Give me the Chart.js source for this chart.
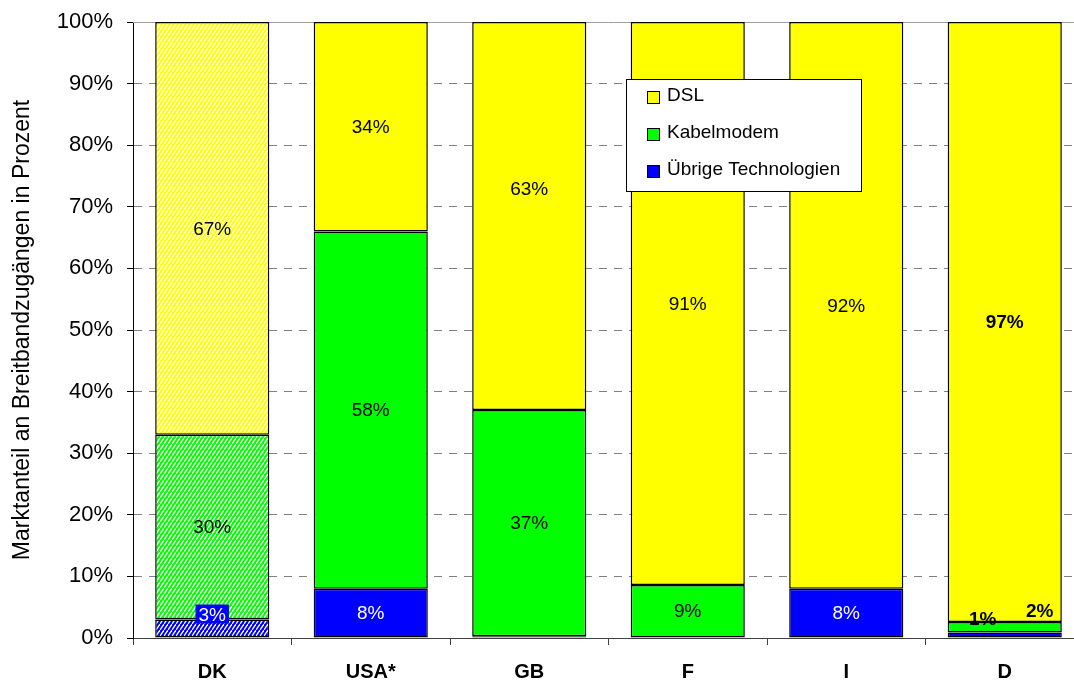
<!DOCTYPE html>
<html lang="de">
<head>
<meta charset="utf-8">
<script src="https://cdn.jsdelivr.net/npm/chart.js@4/dist/chart.umd.min.js"></script>
<style>
  html, body { margin: 0; padding: 0; background: #fff; overflow: hidden; }
  #wrap { width: 1074px; height: 682px; overflow: hidden; }
  canvas { display: block; }
</style>
</head>
<body>
<div id="wrap"><canvas id="c" width="1090" height="682"></canvas></div>
<script>
// Marktanteile der Breitbandtechnologien je Land (in Prozent)
const countries = ['DK', 'USA*', 'GB', 'F', 'I', 'D'];
const uebrige   = [3, 8, 0.3, 0, 8, 0.9];
const kabel     = [30, 58, 36.7, 8.6, 0, 1.7];
const dsl       = [67, 34, 63, 91.4, 92, 97.4];
const seriesNames = ['Übrige Technologien', 'Kabelmodem', 'DSL'];
const yTickValues = [0, 10, 20, 30, 40, 50, 60, 70, 80, 90, 100];
const yTitle = 'Marktanteil an Breitbandzugängen in Prozent';

const FONT = '"Liberation Sans", Arial, sans-serif';
const COLORS = ['#0000ff', '#00ff00', '#ffff00'];

const canvas = document.getElementById('c');
const mainCtx = canvas.getContext('2d');

// diagonal white hatching used for the first country's bars
function hatch(color) {
  const t = document.createElement('canvas');
  t.width = 4; t.height = 6;
  const g = t.getContext('2d');
  g.fillStyle = color;
  g.fillRect(0, 0, 4, 6);
  g.strokeStyle = '#ffffff';
  g.lineWidth = 1.3;
  for (const m of [-1, 0, 1]) {
    g.beginPath();
    g.moveTo(0, 6 + 6 * m);
    g.lineTo(4, 6 * m);
    g.stroke();
  }
  return mainCtx.createPattern(t, 'repeat');
}
const hatched = COLORS.map(hatch);

// per-label styling (key: category|dataset index)
const labelStyle = {
  'DK|0':   { dy: -14, color: '#fff', box: '#0000ff' },
  'USA*|0': { color: '#fff' },
  'I|0':    { color: '#fff' },
  'GB|2':   { dy: -27 },
  'D|0':    { dx: -22, dy: -16, bold: true },
  'D|1':    { dx: 35, dy: -16, bold: true },
  'D|2':    { bold: true }
};

const valueLabels = {
  id: 'valueLabels',
  afterDatasetsDraw(chart) {
    const ctx = chart.ctx;
    chart.data.datasets.forEach((ds, di) => {
      const meta = chart.getDatasetMeta(di);
      meta.data.forEach((el, i) => {
        const v = ds.data[i];
        if (v == null || v < 0.5) return;
        const st = labelStyle[countries[i] + '|' + di] || {};
        const x = el.x + (st.dx || 0);
        const y = (el.y + el.base) / 2 + (st.dy || 0);
        const txt = Math.round(v) + '%';
        ctx.save();
        ctx.font = (st.bold ? 'bold ' : '') + '19px ' + FONT;
        ctx.textAlign = 'center';
        ctx.textBaseline = 'middle';
        if (st.box) {
          const w = ctx.measureText(txt).width + 6;
          ctx.fillStyle = st.box;
          ctx.fillRect(x - w / 2, y - 10, w, 19);
        }
        ctx.fillStyle = st.color || '#000';
        ctx.fillText(txt, x, y + 1);
        ctx.restore();
      });
    });
  }
};

// light top border of the plot area
const plotTop = {
  id: 'plotTop',
  beforeDatasetsDraw(chart) {
    const { ctx, chartArea } = chart;
    ctx.save();
    ctx.strokeStyle = '#a0a0a0';
    ctx.lineWidth = 1;
    ctx.beginPath();
    ctx.moveTo(chartArea.left, Math.round(chartArea.top) + 0.5);
    ctx.lineTo(chartArea.right, Math.round(chartArea.top) + 0.5);
    ctx.stroke();
    ctx.restore();
  }
};

// boxed legend inside the plot area
const boxLegend = {
  id: 'boxLegend',
  afterDraw(chart) {
    const ctx = chart.ctx;
    const bx = 626.5, by = 79.5, bw = 235, bh = 112;
    ctx.save();
    ctx.fillStyle = '#fff';
    ctx.fillRect(bx, by, bw, bh);
    ctx.strokeStyle = '#000';
    ctx.lineWidth = 1;
    ctx.strokeRect(bx, by, bw, bh);
    const items = chart.data.datasets.map((d, i) => ({ text: d.label, color: COLORS[i] })).reverse();
    ctx.font = '19px ' + FONT;
    ctx.textBaseline = 'middle';
    ctx.textAlign = 'left';
    items.forEach((it, k) => {
      const cy = 96 + k * 37;
      ctx.fillStyle = it.color;
      ctx.fillRect(647.5, cy - 4.5, 12, 12);
      ctx.strokeStyle = '#000';
      ctx.strokeRect(647.5, cy - 4.5, 12, 12);
      ctx.fillStyle = '#000';
      ctx.fillText(it.text, 667, cy);
    });
    ctx.restore();
  }
};

const seriesData = [uebrige, kabel, dsl];

new Chart(canvas, {
  type: 'bar',
  data: {
    labels: countries,
    datasets: seriesData.map((arr, k) => ({
      label: seriesNames[k],
      data: arr,
      backgroundColor: c => (c.dataIndex === 0 ? hatched[k] : COLORS[k]),
      borderColor: '#000',
      borderWidth: 1.5,
      borderSkipped: false,
      barPercentage: 0.72,
      categoryPercentage: 1
    }))
  },
  options: {
    responsive: false,
    animation: false,
    devicePixelRatio: 1,
    layout: { padding: { left: 0, top: 22, right: 6, bottom: 0 } },
    plugins: {
      legend: { display: false },
      tooltip: { enabled: false }
    },
    scales: {
      x: {
        stacked: true,
        ticks: { font: { family: FONT, size: 20, weight: 'bold' }, color: '#000', padding: 15 },
        grid: { offset: true, drawOnChartArea: false, drawTicks: true, tickLength: 7, tickColor: '#404040', color: '#404040' },
        border: { color: '#404040', width: 1 },
        afterFit: s => { s.height = 44; }
      },
      y: {
        stacked: true,
        min: 0,
        max: 100,
        afterBuildTicks: s => { s.ticks = yTickValues.map(v => ({ value: v })); },
        ticks: {
          callback: v => v + '%',
          font: { family: FONT, size: 22 },
          color: '#000',
          padding: 14
        },
        grid: {
          color: c => (c.tick && (c.tick.value === 0 || c.tick.value === 100)) ? 'rgba(0,0,0,0)' : '#808080',
          lineWidth: 1,
          tickLength: 6,
          tickColor: '#000',
          tickWidth: 1,
          tickBorderDash: []
        },
        border: { display: true, color: '#000', width: 1, dash: [8, 7] },
        title: {
          display: true,
          text: yTitle,
          font: { family: FONT, size: 23 },
          color: '#000',
          padding: { top: 9, bottom: 0 }
        },
        afterFit: s => {
          s.width = 133;
          s.paddingTop = 0;
          s.paddingBottom = 0;
        }
      }
    }
  },
  plugins: [plotTop, valueLabels, boxLegend]
});
</script>
</body>
</html>
